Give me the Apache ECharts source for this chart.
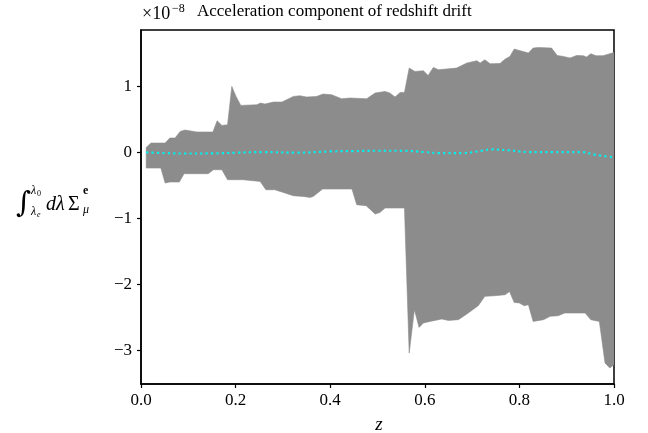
<!DOCTYPE html>
<html>
<head>
<meta charset="utf-8">
<script src="https://cdn.jsdelivr.net/npm/echarts@6/dist/echarts.min.js"></script>
<style>html,body{margin:0;padding:0;background:#fff}#c{width:648px;height:433px}</style>
</head>
<body>
<div id="c"></div>
<script>
// Values in units of 1e-8
const upperZ = [0.011,0.021,0.051,0.061,0.072,0.083,0.093,0.118,0.152,0.161,0.171,0.183,0.192,0.201,0.211,0.245,0.253,0.262,0.280,0.298,0.322,0.336,0.350,0.371,0.385,0.403,0.424,0.442,0.477,0.495,0.516,0.526,0.537,0.548,0.557,0.567,0.579,0.597,0.607,0.618,0.629,0.667,0.689,0.710,0.717,0.727,0.738,0.759,0.770,0.780,0.789,0.819,0.829,0.840,0.868,0.880,0.893,0.907,0.921,0.935,0.942,0.951,0.962,0.977,1.0];
const upperV = [0.080,0.147,0.147,0.223,0.223,0.323,0.344,0.314,0.314,0.485,0.414,0.424,1.005,0.853,0.717,0.727,0.753,0.738,0.768,0.768,0.853,0.864,0.844,0.853,0.889,0.879,0.818,0.829,0.818,0.905,0.929,0.905,0.844,0.914,0.914,1.283,1.232,1.242,1.171,1.292,1.258,1.283,1.359,1.394,1.359,1.409,1.348,1.353,1.420,1.459,1.571,1.511,1.586,1.595,1.586,1.474,1.459,1.435,1.474,1.470,1.450,1.500,1.470,1.470,1.520];
const lowerZ = [0.011,0.042,0.051,0.061,0.081,0.091,0.142,0.153,0.171,0.183,0.216,0.252,0.264,0.283,0.301,0.322,0.343,0.357,0.364,0.384,0.446,0.456,0.476,0.495,0.505,0.516,0.557,0.567,0.578,0.588,0.597,0.611,0.636,0.650,0.671,0.689,0.713,0.727,0.748,0.770,0.779,0.789,0.800,0.810,0.819,0.829,0.851,0.865,0.882,0.896,0.939,0.951,0.969,0.981,0.991,1.0];
const lowerV = [-0.232,-0.232,-0.459,-0.444,-0.444,-0.318,-0.318,-0.258,-0.258,-0.409,-0.409,-0.435,-0.561,-0.561,-0.602,-0.652,-0.662,-0.677,-0.662,-0.550,-0.550,-0.788,-0.803,-0.929,-0.905,-0.838,-0.838,-3.035,-2.379,-2.647,-2.580,-2.556,-2.520,-2.541,-2.530,-2.444,-2.318,-2.177,-2.167,-2.152,-2.102,-2.268,-2.277,-2.318,-2.303,-2.556,-2.530,-2.480,-2.470,-2.429,-2.429,-2.530,-2.556,-3.186,-3.262,-3.212];
const meanZ = [0.011,0.05,0.09,0.15,0.2,0.26,0.33,0.4,0.45,0.5,0.55,0.6,0.63,0.68,0.72,0.74,0.78,0.82,0.87,0.93,0.96,1.0];
const meanV = [0.005,-0.005,-0.012,-0.01,0.0,0.01,0.0,0.02,0.025,0.03,0.03,0.01,-0.005,-0.005,0.03,0.05,0.035,0.01,0.01,0.01,-0.03,-0.07];
const yTicks = [-3,-2,-1,0,1];
const xTicks = [0,0.2,0.4,0.6,0.8,1.0];

const polyPts = upperZ.map((z,i)=>[z,upperV[i]]).concat(lowerZ.map((z,i)=>[z,lowerV[i]]).reverse());
const meanData = meanZ.map((z,i)=>[z,meanV[i]]);

const serif = "'Liberation Serif', 'DejaVu Serif', serif";
const chart = echarts.init(document.getElementById('c'), null, {renderer:'canvas'});
chart.setOption({
  animation:false,
  backgroundColor:'#fff',
  grid:{left:141,right:34,top:30,bottom:49,show:true,borderColor:'#000',borderWidth:1.5,backgroundColor:'transparent'},
  xAxis:{type:'value',min:0,max:1,interval:0.2,
    axisLine:{show:true,onZero:false,lineStyle:{color:'#000',width:1.5}},
    axisTick:{show:true,inside:false,length:4,lineStyle:{color:'#000',width:1.2},customValues:xTicks},
    axisLabel:{customValues:xTicks,color:'#000',fontFamily:serif,fontSize:17,margin:8,formatter:v=>v.toFixed(1)},
    splitLine:{show:false}},
  yAxis:{type:'value',min:-3.505,max:1.86,
    axisLine:{show:true,onZero:false,lineStyle:{color:'#000',width:1.5}},
    axisTick:{show:true,inside:false,length:4,lineStyle:{color:'#000',width:1.2},customValues:yTicks},
    axisLabel:{customValues:yTicks,color:'#000',fontFamily:serif,fontSize:17,margin:9,formatter:v=>v<0?'\u2212'+Math.abs(v):String(v)},
    splitLine:{show:false}},
  series:[
    {type:'custom',data:[0],clip:true,z:1,
     renderItem:(params,api)=>({type:'polygon',shape:{points:polyPts.map(p=>api.coord(p))},style:{fill:'#8c8c8c',stroke:'#8c8c8c',lineWidth:0.6}})},
    {type:'line',data:meanData,smooth:0.4,showSymbol:false,z:3,
     lineStyle:{color:'#00f0f0',width:2.2,type:[2.2,3.2],cap:'butt'}}
  ],
  graphic:[
    {type:'text',x:142,y:23,style:{text:'×10',fontFamily:serif,fontSize:18,fill:'#000',verticalAlign:'bottom'}},
    {type:'text',x:172,y:15,style:{text:'\u22128',fontFamily:serif,fontSize:12,fill:'#000',verticalAlign:'bottom'}},
    {type:'text',left:197,top:3,style:{text:'Acceleration component of redshift drift',fontFamily:serif,fontSize:17,fill:'#000'}},
    {type:'text',x:379,y:425,style:{text:'z',fontFamily:serif,fontStyle:'italic',fontSize:19,fill:'#000',align:'center',verticalAlign:'middle'}},
    {type:'text',x:16,y:204,style:{text:'\u222B',fontFamily:"'DejaVu Serif', serif",fontSize:29,fill:'#000',align:'left',verticalAlign:'middle'}},
    {type:'text',x:31,y:191,style:{text:'λ',fontFamily:serif,fontStyle:'italic',fontSize:12,fill:'#000',verticalAlign:'middle'}},
    {type:'text',x:37,y:194,style:{text:'0',fontFamily:serif,fontSize:8,fill:'#000',verticalAlign:'middle'}},
    {type:'text',x:31,y:212,style:{text:'λ',fontFamily:serif,fontStyle:'italic',fontSize:12,fill:'#000',verticalAlign:'middle'}},
    {type:'text',x:37,y:215,style:{text:'e',fontFamily:serif,fontStyle:'italic',fontSize:8,fill:'#000',verticalAlign:'middle'}},
    {type:'text',x:46,y:205,style:{text:'dλ',fontFamily:serif,fontStyle:'italic',fontSize:20,fill:'#000',verticalAlign:'middle'}},
    {type:'text',x:68,y:205,style:{text:'Σ',fontFamily:serif,fontSize:20,fill:'#000',verticalAlign:'middle'}},
    {type:'text',x:83,y:191,style:{text:'e',fontFamily:serif,fontWeight:'bold',fontSize:12,fill:'#000',verticalAlign:'middle'}},
    {type:'text',x:83,y:210,style:{text:'μ',fontFamily:serif,fontStyle:'italic',fontSize:12,fill:'#000',verticalAlign:'middle'}}
  ]
});
</script>
</body>
</html>
